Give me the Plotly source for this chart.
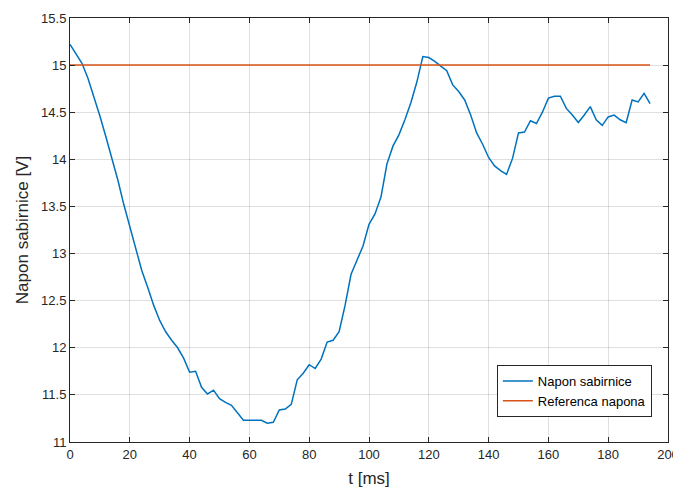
import plotly.graph_objects as go

t_ms = list(range(0, 196, 2))
napon = [15.22, 15.12, 15.02, 14.86, 14.67, 14.46, 14.24, 14.02, 13.78, 13.52,
         13.28, 13.05, 12.82, 12.64, 12.45, 12.29, 12.17, 12.08, 12.00, 11.89,
         11.74, 11.75, 11.58, 11.51, 11.55, 11.46, 11.42, 11.39, 11.31, 11.23,
         11.23, 11.23, 11.23, 11.20, 11.21, 11.34, 11.35, 11.40, 11.66, 11.73,
         11.82, 11.78, 11.88, 12.06, 12.08, 12.17, 12.45, 12.78, 12.93, 13.08,
         13.31, 13.42, 13.60, 13.95, 14.14, 14.26, 14.42, 14.60, 14.82, 15.09,
         15.08, 15.04, 14.99, 14.94, 14.79, 14.72, 14.63, 14.47, 14.28, 14.16,
         14.02, 13.93, 13.88, 13.84, 14.01, 14.28, 14.29, 14.41, 14.38, 14.50,
         14.65, 14.67, 14.67, 14.54, 14.47, 14.39, 14.47, 14.56, 14.42, 14.36,
         14.45, 14.47, 14.42, 14.39, 14.63, 14.61, 14.70, 14.59]
referenca = [15.0] * len(t_ms)

x_ticks = list(range(0, 201, 20))
y_ticks = [11, 11.5, 12, 12.5, 13, 13.5, 14, 14.5, 15, 15.5]

fig = go.Figure()
fig.add_trace(go.Scatter(x=t_ms, y=napon, mode="lines", name="Napon sabirnice",
                         line=dict(color="#0072BD", width=1.5)))
fig.add_trace(go.Scatter(x=t_ms, y=referenca, mode="lines", name="Referenca napona",
                         line=dict(color="#D95319", width=1.5)))

axis_common = dict(
    showline=True, linecolor="#262626", linewidth=1, mirror="allticks",
    ticks="inside", ticklen=5, tickcolor="#262626",
    showgrid=True, gridcolor="rgba(38,38,38,0.15)", gridwidth=1,
    zeroline=False, automargin=False,
    tickfont=dict(family="Liberation Sans", size=13, color="#262626"),
)

fig.update_layout(
    width=673, height=480,
    margin=dict(l=62, r=13, t=10, b=46),
    paper_bgcolor="white", plot_bgcolor="white",
    font=dict(family="Liberation Sans", color="#262626"),
    xaxis=dict(range=[0, 200], tickvals=x_ticks,
               title=dict(text="t [ms]", font=dict(size=17, color="#262626"), standoff=14),
               **axis_common),
    yaxis=dict(range=[11, 15.5], tickvals=y_ticks,
               title=dict(text="Napon sabirnice [V]", font=dict(size=17, color="#262626"), standoff=8),
               **axis_common),
    legend=dict(x=0.973, y=0.059, xanchor="right", yanchor="bottom",
                bgcolor="white", bordercolor="#262626", borderwidth=1,
                font=dict(size=13, color="#000000"), tracegroupgap=0),
    showlegend=True,
)

fig.write_html("out.html")
